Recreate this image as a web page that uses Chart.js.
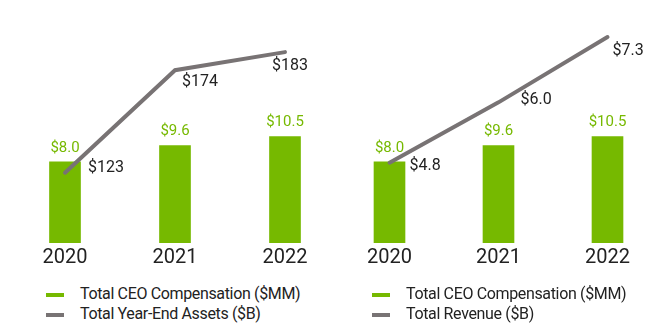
<!DOCTYPE html>
<html>
<head>
<meta charset="utf-8">
<script src="https://cdn.jsdelivr.net/npm/chart.js@4.4.1/dist/chart.umd.min.js"></script>
<style>
  body { margin: 0; background: #fff; font-family: Roboto, sans-serif; }
  #wrap { position: relative; width: 670px; height: 328px; overflow: hidden; }
  #wrap canvas { position: absolute; top: 0; }
  .legend { position: absolute; top: 284px; font-size: 16px; letter-spacing: -0.35px; color: #222; white-space: nowrap; }
  .legend div { height: 20px; line-height: 20px; }
  .legend span.sw { display: inline-block; width: 18px; height: 4px; margin-right: 16px; vertical-align: middle; }
</style>
</head>
<body>
<div id="wrap">
  <canvas id="assetsChart" width="350" height="280" style="left:0"></canvas>
  <canvas id="revenueChart" width="335" height="280" style="left:335px"></canvas>
  <div class="legend" id="assetsLegend" style="left:46px"></div>
  <div class="legend" id="revenueLegend" style="left:372px"></div>
</div>
<script>
(function () {
    // -------- Data --------
    const years = ["2020", "2021", "2022"];
    const ceoComp = [8.0, 9.6, 10.5];          // $MM
    const yearEndAssets = [123, 174, 183];     // $B
    const totalRevenue = [4.8, 6.0, 7.3];      // $B

    const GREEN = "#76b900";
    const GREY = "#787374";
    const INK = "#222222";
    const FONT = "Roboto, sans-serif";

    // -------- Value tags drawn next to bars / line points --------
    const valueTags = {
        id: "valueTags",
        afterDatasetsDraw(chart, args, opts) {
            const ctx = chart.ctx;
            ctx.save();
            chart.data.datasets.forEach((ds, i) => {
                const meta = chart.getDatasetMeta(i);
                meta.data.forEach((el, j) => {
                    const v = ds.data[j];
                    if (ds.type === "bar") {
                        ctx.font = "15px " + FONT;
                        ctx.fillStyle = GREEN;
                        ctx.textAlign = "center";
                        ctx.textBaseline = "middle";
                        ctx.fillText("$" + v.toFixed(1), el.x, el.y - 14);
                    } else {
                        const off = (opts.lineOffsets || [])[j] || [8, 0];
                        ctx.font = "16px " + FONT;
                        ctx.fillStyle = INK;
                        ctx.textAlign = "left";
                        ctx.textBaseline = "middle";
                        ctx.fillText("$" + opts.fmt(v), el.x + off[0], el.y + off[1]);
                    }
                });
            });
            ctx.restore();
        }
    };

    function makeChart(id, lineLabel, lineData, lineMin, lineMax, padding, offsets, fmt) {
        const el = document.getElementById(id);
        return new Chart(el, {
            data: {
                labels: years,
                datasets: [
                    { type: "bar", label: "Total CEO Compensation ($MM)", data: ceoComp,
                      backgroundColor: GREEN, barThickness: 31, order: 1, yAxisID: "y" },
                    { type: "line", label: lineLabel, data: lineData, borderColor: GREY,
                      backgroundColor: GREY, borderWidth: 4, borderCapStyle: "round",
                      pointRadius: 0, tension: 0, order: 0, yAxisID: "y1" }
                ]
            },
            options: {
                responsive: false,
                animation: false,
                layout: { padding: padding },
                plugins: {
                    legend: { display: false },
                    tooltip: { enabled: false },
                    valueTags: { lineOffsets: offsets, fmt: fmt }
                },
                scales: {
                    x: {
                        grid: { display: false, drawTicks: false },
                        border: { display: false },
                        ticks: { font: { family: FONT, size: 20 }, color: INK, padding: 3 }
                    },
                    y: { display: false, min: 0, max: 21.6 },
                    y1: { display: false, min: lineMin, max: lineMax }
                }
            },
            plugins: [valueTags]
        });
    }

    function buildLegend(id, chart) {
        const box = document.getElementById(id);
        chart.data.datasets.forEach(ds => {
            const row = document.createElement("div");
            const sw = document.createElement("span");
            sw.className = "sw";
            sw.style.background = ds.type === "bar" ? ds.backgroundColor : ds.borderColor;
            row.appendChild(sw);
            row.appendChild(document.createTextNode(ds.label));
            box.appendChild(row);
        });
    }

    // -------- Render --------
    const assets = makeChart("assetsChart", "Total Year-End Assets ($B)", yearEndAssets, 88, 197,
        { top: 24, bottom: 7, left: 10, right: 10 },
        [[23, -5], [7, 12], [-13, 14]],
        v => String(v));

    const revenue = makeChart("revenueChart", "Total Revenue ($B)", totalRevenue, 3.2, 7.56,
        { top: 24, bottom: 7, left: 0, right: 8 },
        [[20, 3], [22, -2], [5, 14]],
        v => v.toFixed(1));

    buildLegend("assetsLegend", assets);
    buildLegend("revenueLegend", revenue);
})();
</script>
</body>
</html>
